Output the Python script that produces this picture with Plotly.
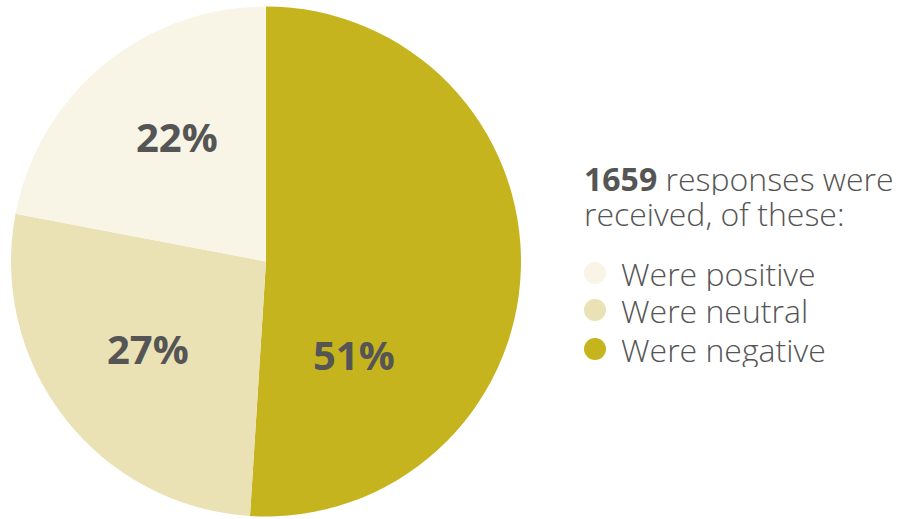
import plotly.graph_objects as go

categories = ["Were negative", "Were neutral", "Were positive"]
values = [51, 27, 22]
colors = ["#C6B41F", "#EAE2B5", "#F8F4E6"]
total_responses = 1659
legend_order = ["Were positive", "Were neutral", "Were negative"]

W, H = 902, 519
TXT = "#555555"
FONT = "Open Sans"
SIDE_SIZE = 32

fig = go.Figure()
fig.add_trace(go.Pie(
    labels=categories,
    values=values,
    sort=False,
    direction="clockwise",
    rotation=0,
    marker=dict(colors=colors, line=dict(width=0)),
    textinfo="none",
    hoverinfo="label+percent",
    showlegend=False,
    domain=dict(x=[11 / W, 521 / W], y=[1 - 517 / H, 1 - 6 / H]),
))

def px(x, y):
    return x / W, 1 - y / H

# percentage labels
label_pos = {"Were positive": (177, 137), "Were neutral": (148, 348), "Were negative": (354, 354)}
annotations = []
for cat, val in zip(categories, values):
    x, y = px(*label_pos[cat])
    annotations.append(dict(
        x=x, y=y, xref="paper", yref="paper", text=f"{val}%", showarrow=False,
        font=dict(family=FONT, size=40, color=TXT, weight="bold"),
        xanchor="center", yanchor="middle",
    ))

# header text (two lines, placed separately for tight line spacing)
header_lines = [f"<b>{total_responses}</b> responses were", "received, of these:"]
for line, yy in zip(header_lines, [178, 213]):
    hx, hy = px(583, yy)
    annotations.append(dict(
        x=hx, y=hy, xref="paper", yref="paper", showarrow=False, text=line,
        align="left", xanchor="left", yanchor="middle", height=34, borderpad=0,
        font=dict(family=FONT, size=SIDE_SIZE, color=TXT, weight=300),
    ))

shapes = []
ys = [273, 310, 349]
color_map = dict(zip(categories, colors))
for name, yy in zip(legend_order, ys):
    tx, ty = px(620, yy)
    annotations.append(dict(
        x=tx, y=ty, xref="paper", yref="paper", showarrow=False, text=name,
        xanchor="left", yanchor="middle", height=35, borderpad=0,
        font=dict(family=FONT, size=SIDE_SIZE, color=TXT, weight=300),
    ))
    x0, y0 = px(584, yy + 11)
    x1, y1 = px(606, yy - 11)
    shapes.append(dict(type="circle", xref="paper", yref="paper",
                       x0=x0, y0=y0, x1=x1, y1=y1,
                       fillcolor=color_map[name], line=dict(width=0)))

fig.update_layout(
    width=W, height=H,
    margin=dict(l=0, r=0, t=0, b=0),
    paper_bgcolor="white", plot_bgcolor="white",
    annotations=annotations, shapes=shapes,
    font=dict(family=FONT, color=TXT),
)

fig.write_html("out.html", config={"displayModeBar": False},
               post_script="document.body.style.margin='0';")
